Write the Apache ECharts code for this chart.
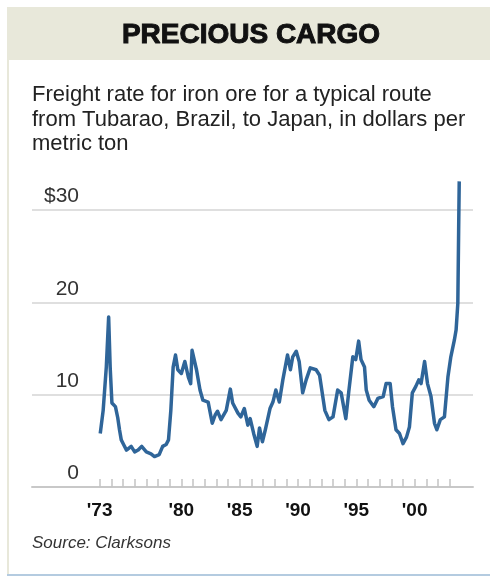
<!DOCTYPE html>
<html>
<head>
<meta charset="utf-8">
<script src="https://cdn.jsdelivr.net/npm/echarts@6/dist/echarts.min.js"></script>
<style>
  html, body { margin: 0; padding: 0; background: #fff; }
  #chart { width: 490px; height: 577px; }
</style>
</head>
<body>
<div id="chart"></div>
<script>
// freight rate, $ per metric ton
var years = [
  1973.05, 1973.3, 1973.57, 1973.77, 1973.9, 1974.05, 1974.35, 1974.55, 1974.7, 1974.85,
  1975.05, 1975.3, 1975.7, 1976.0, 1976.3, 1976.6, 1977.0, 1977.4, 1977.7, 1978.1,
  1978.4, 1978.7, 1978.9, 1979.1, 1979.3, 1979.5, 1979.7, 1980.0, 1980.3, 1980.6,
  1980.8, 1980.92, 1981.3, 1981.6, 1981.85, 1982.3, 1982.65, 1982.9, 1983.1, 1983.4,
  1983.85, 1984.2, 1984.4, 1984.85, 1985.1, 1985.4, 1985.7, 1985.9, 1986.2, 1986.5,
  1986.7, 1986.95, 1987.2, 1987.6, 1987.85, 1988.1, 1988.4, 1988.7, 1989.1, 1989.35,
  1989.55, 1989.85, 1990.1, 1990.4, 1990.7, 1991.05, 1991.55, 1991.85, 1992.3, 1992.65,
  1993.0, 1993.4, 1993.7, 1994.1, 1994.35, 1994.7, 1994.95, 1995.2, 1995.4, 1995.7,
  1995.85, 1996.1, 1996.5, 1996.85, 1997.3, 1997.55, 1997.9, 1998.1, 1998.4, 1998.7,
  1999.0, 1999.3, 1999.55, 1999.8, 2000.1, 2000.35, 2000.55, 2000.85, 2001.1, 2001.4,
  2001.7, 2001.9, 2002.2, 2002.55, 2002.85, 2003.1, 2003.4, 2003.55, 2003.7, 2003.77,
  2003.82
]
var rates = [
  5.8, 8.3, 13.0, 18.4, 13.0, 9.1, 8.7, 7.5, 6.2, 5.1,
  4.6, 4.0, 4.4, 3.8, 4.0, 4.4, 3.8, 3.6, 3.3, 3.5,
  4.4, 4.6, 5.1, 8.3, 13.0, 14.3, 12.7, 12.3, 13.6, 11.9,
  11.2, 14.8, 12.7, 10.5, 9.4, 9.2, 6.9, 7.8, 8.2, 7.3,
  8.3, 10.6, 9.1, 8.0, 7.6, 8.5, 6.7, 7.4, 5.8, 4.4,
  6.4, 4.9, 6.2, 8.5, 9.2, 10.5, 9.2, 11.6, 14.3, 12.7,
  14.1, 14.7, 13.6, 10.2, 11.6, 12.9, 12.7, 12.1, 8.3, 7.3,
  7.6, 10.5, 10.2, 7.4, 10.3, 14.1, 13.8, 15.8, 13.8, 13.0,
  10.5, 9.4, 8.7, 9.6, 9.8, 11.2, 11.2, 8.7, 6.2, 5.8,
  4.7, 5.4, 6.5, 10.2, 10.9, 11.6, 11.2, 13.6, 11.2, 9.8,
  6.9, 6.2, 7.3, 7.6, 11.9, 14.1, 15.9, 17.0, 19.9, 27.8,
  33.1
]
var yearTicks = []
for (var y = 1973; y <= 2003; y++) yearTicks.push(y)
var yearLabels = [1973, 1980, 1985, 1990, 1995, 2000]
var rateTicks = [0, 10, 20, 30]

var seriesData = years.map(function(yr, i) { return [yr, rates[i]] })

var myChart = echarts.init(document.getElementById('chart'))
myChart.setOption({
    animation: false,
    backgroundColor: '#fff',
    graphic: [
        { type: 'rect', shape: { x: 7, y: 7, width: 483, height: 53 }, style: { fill: '#e8e8da' }, z: -10 },
        { type: 'rect', shape: { x: 7, y: 60, width: 2, height: 515 }, style: { fill: '#e8e8da' }, z: -10 },
        { type: 'rect', shape: { x: 7, y: 574, width: 483, height: 2 }, style: { fill: '#b4cbe0' }, z: -10 }
    ],
    title: [{
        text: 'PRECIOUS CARGO',
        left: 251,
        textAlign: 'center',
        top: 18,
        padding: 0,
        textStyle: {
            fontFamily: 'Liberation Sans',
            fontSize: 28,
            fontWeight: 900,
            color: '#111',
            textBorderColor: '#111',
            textBorderWidth: 1,
            lineHeight: 34
        }
    }, {
        text: 'Freight rate for iron ore for a typical route\nfrom Tubarao, Brazil, to Japan, in dollars per\nmetric ton',
        left: 32,
        top: 83,
        padding: 0,
        textStyle: {
            fontFamily: 'Liberation Sans',
            fontSize: 22,
            fontWeight: 'normal',
            color: '#222',
            lineHeight: 24.5
        }
    }, {
        text: 'Source: Clarksons',
        left: 32,
        top: 533,
        padding: 0,
        textStyle: {
            fontFamily: 'Liberation Sans',
            fontSize: 17,
            fontStyle: 'italic',
            fontWeight: 'normal',
            color: '#333',
            lineHeight: 20
        }
    }],
    grid: {
        left: 32,
        right: 17,
        top: 210,
        bottom: 90,
        containLabel: false
    },
    xAxis: {
        type: 'value',
        min: 1967.2,
        max: 2005,
        splitLine: { show: false },
        axisLine: { show: true, lineStyle: { color: '#c8c8c8', width: 2 } },
        axisTick: {
            show: true,
            inside: true,
            length: 8,
            customValues: yearTicks,
            lineStyle: { color: '#c4c4c4', width: 1.5 }
        },
        axisLabel: {
            customValues: yearLabels,
            margin: 14,
            fontFamily: 'Liberation Sans',
            fontSize: 19,
            fontWeight: 'bold',
            color: '#111',
            formatter: function(v) { return "'" + String(v).slice(2) }
        }
    },
    yAxis: {
        type: 'value',
        min: 0,
        max: 30,
        interval: 10,
        axisLine: { show: false },
        axisTick: { show: false },
        splitLine: { show: true, lineStyle: { color: '#d4d4d4', width: 1.5 } },
        axisLabel: {
            inside: true,
            margin: 47,
            align: 'right',
            verticalAlign: 'bottom',
            padding: [0, 0, 3, 0],
            fontFamily: 'Liberation Sans',
            fontSize: 21,
            color: '#333',
            customValues: rateTicks,
            formatter: function(v) { return v === 30 ? '$30' : String(v) }
        }
    },
    series: [{
        type: 'line',
        data: seriesData,
        showSymbol: false,
        clip: false,
        lineStyle: { color: '#2f6599', width: 3.5, join: 'round' },
        z: 5
    }]
})
</script>
</body>
</html>
